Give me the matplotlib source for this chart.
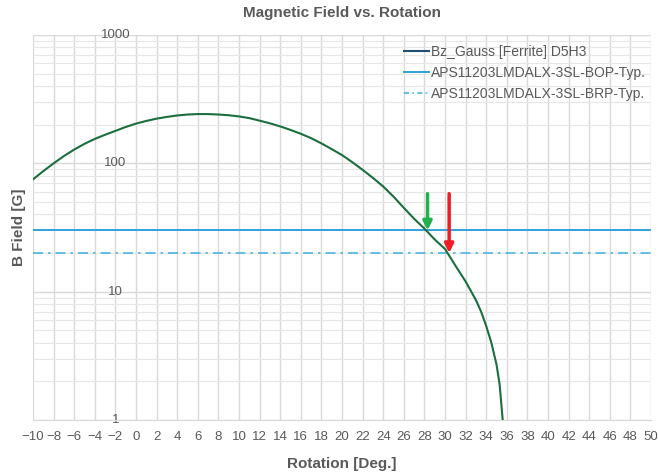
import matplotlib
matplotlib.use("Agg")
import matplotlib.pyplot as plt
from matplotlib.lines import Line2D
from matplotlib.ticker import LogLocator, NullFormatter

plt.rcParams['font.family'] = ['Liberation Sans', 'DejaVu Sans']

# data
rotation = [-10, -9, -8, -7, -6, -5, -4, -3, -2, -1, 0, 1, 2, 3, 4, 5, 6, 7, 8, 9,
            10, 11, 12, 13, 14, 15, 16, 17, 18, 19, 20, 21, 22, 23, 24, 25, 26, 27,
            28, 29, 30, 31, 32, 33, 33.5, 34, 34.5, 35, 35.3, 35.6]
bz_gauss = [75, 87, 100, 114, 128, 142, 155, 167, 179, 192, 204, 214, 223, 230, 236,
            240, 242, 242, 240, 237, 232, 225, 215, 205, 194, 182, 170, 157, 143, 129,
            116, 102, 89, 77, 66, 55, 45, 37, 31, 25.5, 21.5, 16, 12, 8.6, 7.0, 5.4,
            4.0, 2.7, 1.9, 1.0]
bop_typ = 30
brp_typ = 20
bop_angle = 28.3
brp_angle = 30.4
arrow_top = 58

x_ticks = list(range(-10, 51, 2))
y_ticks = [1, 10, 100, 1000]

grey = '#595959'
grid_c = '#d9d9d9'

fig = plt.figure(figsize=(6.58, 4.76), dpi=100)
ax = fig.add_axes([0.0502, 0.1176, 0.9392, 0.8089])

ax.plot(rotation, bz_gauss, color='#1b6e3d', lw=1.5, zorder=3)
ax.axhline(bop_typ, color='#2ea3dc', lw=1.4, zorder=2)
ax.axhline(brp_typ, color='#4cb3e2', lw=1.2, ls=(0, (6, 3, 1.5, 3)), zorder=2)

ax.annotate('', xy=(bop_angle, bop_typ), xytext=(bop_angle, arrow_top),
            arrowprops=dict(arrowstyle='-|>', color='#22b14c', lw=2.5,
                            mutation_scale=13, shrinkA=0, shrinkB=0), zorder=4)
ax.annotate('', xy=(brp_angle, brp_typ), xytext=(brp_angle, arrow_top),
            arrowprops=dict(arrowstyle='-|>', color='#ee1c25', lw=2.5,
                            mutation_scale=13, shrinkA=0, shrinkB=0), zorder=4)

ax.set_yscale('log')
ax.set_xlim(-10, 50)
ax.set_ylim(1, 1000)
ax.set_xticks(x_ticks)
ax.set_xticklabels([str(t).replace('-', '\u2212') for t in x_ticks])
ax.yaxis.set_major_locator(LogLocator(base=10))
ax.yaxis.set_minor_locator(LogLocator(base=10, subs=range(2, 10)))
ax.yaxis.set_minor_formatter(NullFormatter())
ax.set_yticklabels([])
ax.tick_params(axis='both', which='both', length=0)
ax.tick_params(axis='x', labelsize=9.5, labelcolor=grey, pad=8)

ax.grid(True, which='major', color=grid_c, lw=1.0)
ax.grid(True, which='minor', axis='y', color='#e6e6e6', lw=0.8)
ax.set_axisbelow(True)
for s in ax.spines.values():
    s.set_visible(False)
ax.spines['bottom'].set_visible(True)
ax.spines['bottom'].set_color(grid_c)

# y tick labels sit on the gridlines, centred at x = -2 like the original
for v in y_ticks:
    ax.text(-2, v, str(v), ha='center', va='center', fontsize=9.5, color=grey, zorder=1)

ax.set_title('Magnetic Field vs. Rotation', fontsize=11, fontweight='bold',
             color=grey, pad=13)
ax.set_xlabel('Rotation [Deg.]', fontsize=11, fontweight='bold', color=grey, labelpad=10)
ax.set_ylabel('B Field [G]', fontsize=11, fontweight='bold', color=grey)
ax.yaxis.set_label_coords(-0.011, 0.5)

handles = [Line2D([], [], color='#1f4e6e', lw=1.5),
           Line2D([], [], color='#2ea3dc', lw=1.4),
           Line2D([], [], color='#4cb3e2', lw=1.2, ls=(0, (3, 2, 1, 2)))]
labels = ['Bz_Gauss [Ferrite] D5H3', 'APS11203LMDALX-3SL-BOP-Typ.',
          'APS11203LMDALX-3SL-BRP-Typ.']
leg = ax.legend(handles, labels, loc='upper right', bbox_to_anchor=(1.005, 0.995),
                frameon=False, fontsize=10, handlelength=1.8, handletextpad=0.15,
                labelspacing=0.5, borderaxespad=0.2)
for t in leg.get_texts():
    t.set_color(grey)

fig.savefig('out.png', dpi=100)
